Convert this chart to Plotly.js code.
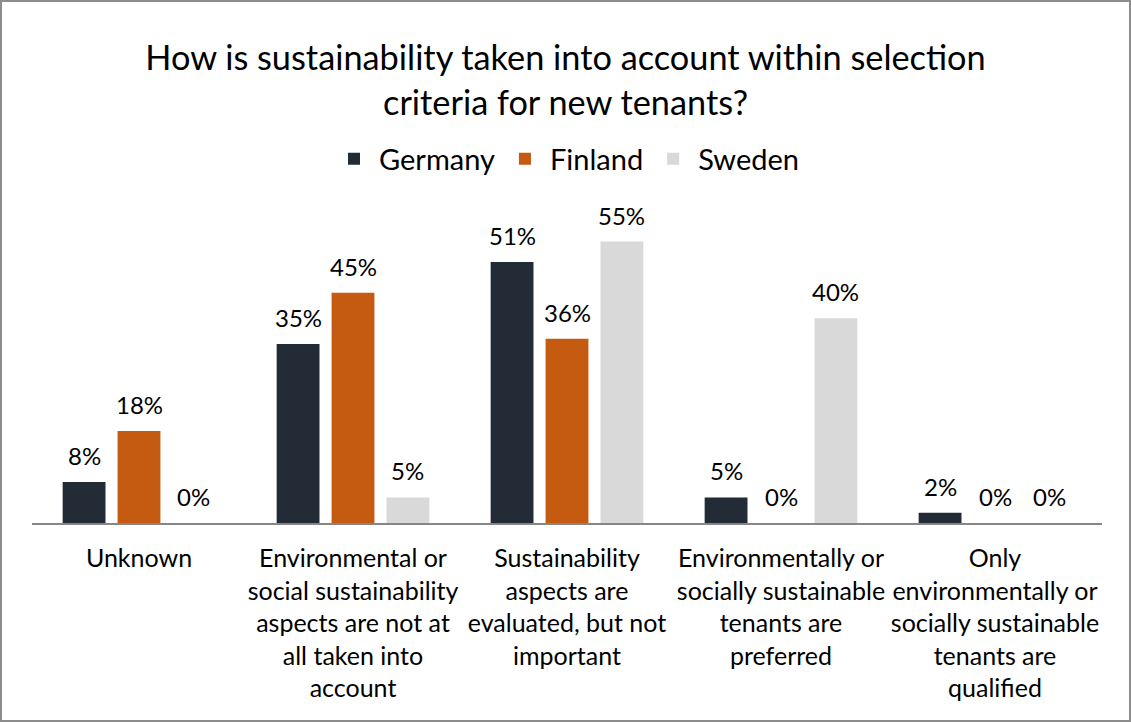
<!DOCTYPE html>
<html><head><meta charset="utf-8">
<script src="https://cdn.plot.ly/plotly-3.0.1.min.js"></script>
<style>
html,body{margin:0;padding:0;background:#fff;}
#wrap{position:relative;width:1131px;height:722px;}
#chart{width:1131px;height:722px;}
#frame{position:absolute;left:0;top:0;width:1131px;height:722px;box-sizing:border-box;border:2px solid #8c8c8c;pointer-events:none;}
</style></head>
<body><div id="wrap"><div id="chart"></div><div id="frame"></div></div>
<script>
const categories = [
  "Unknown",
  "Environmental or<br>social sustainability<br>aspects are not at<br>all taken into<br>account",
  "Sustainability<br>aspects are<br>evaluated, but not<br>important",
  "Environmentally or<br>socially sustainable<br>tenants are<br>preferred",
  "Only<br>environmentally or<br>socially sustainable<br>tenants are<br>qualified"
];
const germany = [8, 35, 51, 5, 2];
const finland = [18, 45, 36, 0, 0];
const sweden = [0, 5, 55, 40, 0];
const seriesNames = ["Germany", "Finland", "Sweden"];
const colors = ["#232b37", "#c55a11", "#d9d9d9"];
const FONT = "Lato, 'Open Sans', sans-serif";

const series = [germany, finland, sweden];
const data = series.map((vals, i) => ({
  type: "bar",
  name: seriesNames[i],
  x: categories,
  y: vals,
  marker: {color: colors[i]},
  hoverinfo: "none"
}));

// value labels placed above each bar, per series slot within the category group
const plotW = 1131 - 32 - 29;
const catW = plotW / categories.length;
const bargap = 0.23;
const slotW = catW * (1 - bargap) / series.length;
const annotations = [];
series.forEach((vals, i) => {
  vals.forEach((v, j) => {
    annotations.push({
      x: categories[j], y: v, xref: "x", yref: "y",
      text: v + "%", showarrow: false,
      xanchor: "center", yanchor: "bottom",
      xshift: (i - 1) * slotW, yshift: 10,
      font: {family: FONT, size: 24, color: "#000"}
    });
  });
});

const layout = {
  width: 1131, height: 722,
  margin: {l: 32, r: 29, t: 216, b: 199},
  paper_bgcolor: "#fff", plot_bgcolor: "#fff",
  font: {family: FONT, color: "#000"},
  title: {
    text: "How is sustainability taken into account within selection<br>criteria for new tenants?",
    font: {family: FONT, size: 34.3, color: "#000"},
    x: 0.5, xanchor: "center", y: 1 - 70/722, yanchor: "middle", yref: "container"
  },
  barmode: "group",
  bargap: bargap,
  bargroupgap: 0.22,
  showlegend: true,
  legend: {
    orientation: "h", x: 0.5, xanchor: "center", y: 1.186, yanchor: "middle",
    itemwidth: 40,
    font: {family: FONT, size: 29, color: "#000"}, itemclick: false
  },
  annotations: annotations,
  xaxis: {
    showline: true, linecolor: "#868686", linewidth: 2,
    ticks: "", ticklabelstandoff: 12,
    tickfont: {family: FONT, size: 25, color: "#000"},
    showgrid: false, fixedrange: true
  },
  yaxis: {
    range: [0, 60], visible: false, showgrid: false, zeroline: false, fixedrange: true
  }
};
Plotly.newPlot("chart", data, layout, {displayModeBar: false, staticPlot: true});
</script></body></html>
